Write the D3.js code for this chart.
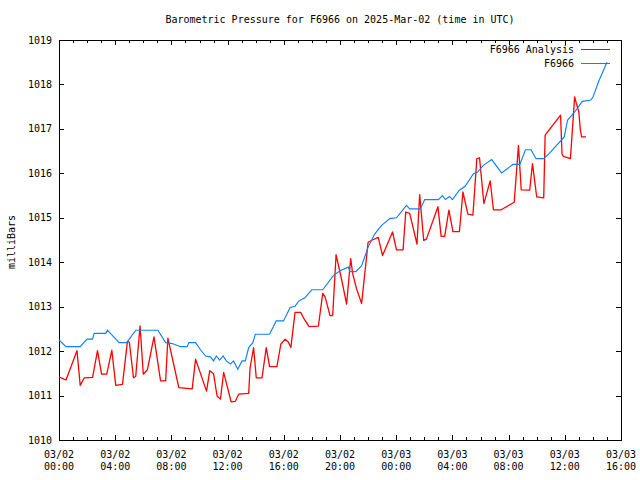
<!DOCTYPE html>
<html><head><meta charset="utf-8">
<script src="https://cdn.jsdelivr.net/npm/d3@7"></script>
<style>
html,body{margin:0;padding:0;background:#fff;}
text{font-family:"DejaVu Sans Mono",monospace;font-size:10px;fill:#000;}
</style></head>
<body><svg id="c" width="640" height="480"></svg>
<script>
// hours since 2025-03-02 00:00 UTC
const analysisHours = [0.0,0.5,1.28,1.51,1.8,2.39,2.74,3.03,3.4,3.76,4.04,4.52,4.87,5.01,5.3,5.46,5.77,6.0,6.29,6.76,7.23,7.59,7.75,8.53,9.48,9.72,10.5,10.73,11.0,11.25,11.49,11.72,12.25,12.55,12.79,13.5,13.6,13.85,14.04,14.45,14.75,14.99,15.51,15.79,16.1,16.33,16.5,16.8,17.21,17.4,17.8,18.46,18.77,18.94,19.29,19.48,19.72,20.12,20.47,20.76,20.9,21.18,21.54,22.0,22.3,22.72,23.03,23.74,24.02,24.49,24.68,24.96,25.48,25.67,25.96,26.15,26.97,27.2,27.45,27.75,28.04,28.5,28.75,29.1,29.46,29.74,29.93,30.24,30.69,30.92,31.47,32.4,32.7,32.9,33.5,33.7,34.0,34.5,34.6,35.7,35.8,35.9,36.4,36.7,36.8,37.0,37.1,37.2,37.5];
const analysisValues = [1011.42,1011.35,1012.01,1011.23,1011.40,1011.41,1012.01,1011.48,1011.48,1012.02,1011.23,1011.25,1012.22,1012.20,1011.40,1011.43,1012.57,1011.48,1011.58,1012.32,1011.33,1011.33,1012.29,1011.18,1011.15,1011.82,1011.10,1011.56,1011.49,1010.99,1010.92,1011.52,1010.86,1010.87,1011.03,1011.05,1011.62,1012.08,1011.40,1011.40,1012.08,1011.65,1011.65,1012.16,1012.27,1012.20,1012.08,1012.87,1012.87,1012.75,1012.55,1012.56,1013.30,1013.22,1012.80,1012.80,1014.17,1013.60,1013.06,1014.08,1013.75,1013.40,1013.07,1014.45,1014.50,1014.56,1014.15,1014.68,1014.28,1014.28,1015.13,1015.10,1014.41,1015.52,1014.49,1014.52,1015.25,1014.58,1014.58,1015.17,1014.69,1014.69,1015.58,1015.08,1015.06,1016.33,1016.35,1015.32,1015.83,1015.18,1015.18,1015.35,1016.63,1015.63,1015.62,1016.22,1015.47,1015.45,1016.86,1017.31,1016.44,1016.38,1016.33,1017.72,1017.60,1017.38,1016.99,1016.82,1016.82];
const stationHours = [0.0,0.5,1.51,1.99,2.39,2.5,3.33,3.45,4.28,4.82,5.46,7.04,7.59,8.06,8.65,9.13,9.24,9.72,10.07,10.43,10.78,11.0,11.2,11.44,11.68,11.91,12.2,12.43,12.72,13.03,13.26,13.5,13.8,13.97,14.99,15.46,15.98,16.45,16.8,17.04,17.5,17.99,18.77,19.53,20.0,20.59,20.7,21.13,21.54,22.0,22.48,22.96,23.55,24.02,24.73,24.96,25.72,26.03,27.0,27.3,27.5,27.8,28.0,28.5,28.9,29.5,29.8,30.2,30.8,31.5,32.1,32.3,32.8,33.2,33.6,33.95,34.5,34.9,35.96,36.2,36.7,37.25,37.85,38.0,38.4,39.0];
const stationValues = [1012.25,1012.10,1012.10,1012.27,1012.27,1012.40,1012.40,1012.47,1012.19,1012.19,1012.47,1012.47,1012.19,1012.17,1012.10,1012.10,1012.19,1012.19,1012.03,1011.89,1011.87,1011.78,1011.89,1011.80,1011.89,1011.78,1011.71,1011.78,1011.59,1011.78,1011.78,1012.08,1012.19,1012.38,1012.38,1012.68,1012.68,1012.98,1013.01,1013.12,1013.20,1013.38,1013.38,1013.70,1013.81,1013.89,1013.79,1013.79,1013.92,1014.34,1014.64,1014.83,1014.98,1015.00,1015.28,1015.20,1015.20,1015.41,1015.41,1015.50,1015.41,1015.48,1015.41,1015.62,1015.71,1015.99,1016.03,1016.18,1016.31,1016.01,1016.15,1016.20,1016.20,1016.53,1016.53,1016.33,1016.33,1016.45,1016.82,1017.20,1017.38,1017.62,1017.65,1017.71,1018.06,1018.50];
const yTicks = [1010,1011,1012,1013,1014,1015,1016,1017,1018,1019];
const xTickHours = [0,4,8,12,16,20,24,28,32,36,40];
const seriesNames = ["F6966 Analysis","F6966"];
const seriesColors = ["#ff0000","#0f80f5"];
const titleText = "Barometric Pressure for F6966 on 2025-Mar-02 (time in UTC)";
const yLabel = "milliBars";

const t0 = Date.UTC(2025,2,2,0,0);
const toDate = h => new Date(t0 + h*3600e3);

const L=59, R=621, T=40, B=440;
const svg = d3.select("#c");
const x = d3.scaleUtc().domain([toDate(0), toDate(40)]).range([L,R]);
const y = d3.scaleLinear().domain([1010,1019]).range([B,T]);

const fmtD = d3.utcFormat("%m/%d"), fmtT = d3.utcFormat("%H:%M");
const minorHours = d3.range(0,41);

const gx = svg.append("g").attr("transform",`translate(0,${B})`)
  .call(d3.axisTop(x).tickValues(minorHours.map(toDate)).tickSize(3).tickFormat(""));
const gx2 = svg.append("g").attr("transform",`translate(0,${B})`)
  .call(d3.axisTop(x).tickValues(xTickHours.map(toDate)).tickSize(5).tickFormat(""));
const gt = svg.append("g").attr("transform",`translate(0,${T})`)
  .call(d3.axisBottom(x).tickValues(minorHours.map(toDate)).tickSize(3).tickFormat(""));
const gt2 = svg.append("g").attr("transform",`translate(0,${T})`)
  .call(d3.axisBottom(x).tickValues(xTickHours.map(toDate)).tickSize(5).tickFormat(""));
const gl = svg.append("g").attr("transform",`translate(${L},0)`)
  .call(d3.axisRight(y).tickValues(yTicks).tickSize(5).tickFormat(""));
const gr = svg.append("g").attr("transform",`translate(${R},0)`)
  .call(d3.axisLeft(y).tickValues(yTicks).tickSize(5).tickFormat(""));
[gx,gx2,gt,gt2,gl,gr].forEach(g=>{g.select(".domain").remove(); g.selectAll("line").attr("stroke","#000").attr("shape-rendering","crispEdges");});

svg.append("rect").attr("x",L+0.5).attr("y",T+0.5).attr("width",R-L).attr("height",B-T)
  .attr("fill","none").attr("stroke","#000").attr("stroke-width",1).attr("shape-rendering","crispEdges");

svg.append("g").selectAll("text").data(yTicks).join("text")
  .attr("x",L-7).attr("y",d=>y(d)+3.5).attr("text-anchor","end").text(d=>d);
const xl = svg.append("g").selectAll("text").data(xTickHours).join("text")
  .attr("text-anchor","middle").attr("x",d=>x(toDate(d)));
xl.append("tspan").attr("x",d=>x(toDate(d))).attr("y",458).text(d=>fmtD(toDate(d)));
xl.append("tspan").attr("x",d=>x(toDate(d))).attr("y",470).text(d=>fmtT(toDate(d)));

svg.append("text").attr("x",(L+R)/2).attr("y",23).attr("text-anchor","middle").text(titleText);
svg.append("text").attr("transform",`translate(15,${(T+B)/2+2}) rotate(-90)`).attr("text-anchor","middle").text(yLabel);

const line = d3.line().x(d=>x(toDate(d[0]))).y(d=>y(d[1]));
const red = analysisHours.map((h,i)=>[h,analysisValues[i]]);
const blue = stationHours.map((h,i)=>[h,stationValues[i]]);
svg.append("path").datum(red).attr("d",line).attr("fill","none").attr("stroke",seriesColors[0]).attr("stroke-width",1.3).attr("stroke-linejoin","round");
svg.append("path").datum(blue).attr("d",line).attr("fill","none").attr("stroke",seriesColors[1]).attr("stroke-width",1.15);

const leg = svg.append("g");
seriesNames.forEach((n,i)=>{
  const yy = 49 + i*14;
  leg.append("text").attr("x",574).attr("y",yy+3.5).attr("text-anchor","end").text(n);
  leg.append("line").attr("x1",581).attr("x2",610).attr("y1",yy+0.5).attr("y2",yy+0.5)
    .attr("stroke",seriesColors[i]).attr("stroke-width",1).attr("shape-rendering","crispEdges");
});
</script></body></html>
